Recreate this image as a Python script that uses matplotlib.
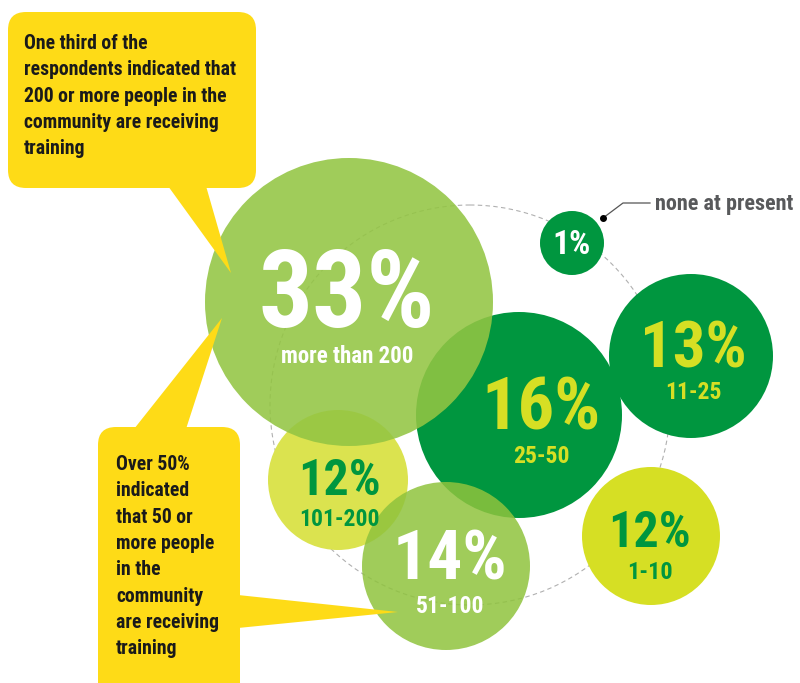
"""社区培训人数分布气泡图。"""

import numpy as np
from matplotlib import pyplot as plt
from matplotlib.patches import Circle, Polygon, FancyBboxPatch
from matplotlib import font_manager

# 选一个窄体字体（参考图为 DIN 类窄体）
_names = {f.name for f in font_manager.fontManager.ttflist}
FONT = 'Roboto'
for cand in ['Roboto Condensed', 'Liberation Sans Narrow',
             'DejaVu Sans Condensed']:
    if cand in _names:
        FONT = cand
        break
plt.rcParams['font.family'] = [FONT, 'DejaVu Sans']

# ---- 数据 ----
shares = [33, 16, 13, 1, 12, 14, 12]
ranges = ['more than 200', '25-50', '11-25', '', '101-200', '51-100', '1-10']
note_top = ('One third of the\nrespondents indicated that\n'
            '200 or more people in the\ncommunity are receiving\ntraining')
note_low = ('Over 50%\nindicated\nthat 50 or\nmore people\nin the\n'
            'community\nare receiving\ntraining')
note_none = 'none at present'

# ---- 布局（像素坐标） ----
centers = [(349, 302), (519, 415), (691, 356), (572, 243),
           (338, 480), (446, 566), (651, 536)]
radii = [144, 103, 82, 32, 70, 84, 69]
fills = ['#93c543', '#00963f', '#00963f', '#00963f',
         '#dbe34f', '#8fc33d', '#d6df24']
alphas = [0.88, 1, 1, 1, 1, 0.85, 1]
txt_colors = ['white', '#d6df24', '#d6df24', 'white',
              '#00963f', 'white', '#00963f']
txt_x = [347, 541, 693, 572, 339, 450, 650]
big_sizes = [77, 52, 46.5, 24, 36, 50, 36]
big_base = [327, 430, 368, 254, 495, 580, 547]
small_sizes = [16.5, 17, 17, 0, 17, 17, 17.5]
small_base = [363, 463, 399, 0, 526, 613, 579]
order = [1, 2, 3, 6, 4, 0, 5]

YELLOW = '#fedb17'

fig = plt.figure(figsize=(8, 6.83), dpi=100)
ax = fig.add_axes([0, 0, 1, 1])
ax.set_xlim(0, 800)
ax.set_ylim(683, 0)
ax.set_aspect('equal')
ax.axis('off')

# 虚线外环
ax.add_patch(Circle((470, 405), 200, fill=False, edgecolor='#b0b0b0',
                    linestyle=(0, (4, 3)), linewidth=0.8, zorder=0))

# 气泡
for i in order:
    ax.add_patch(Circle(centers[i], radii[i], facecolor=fills[i],
                        edgecolor='none', alpha=alphas[i], zorder=2))

for i in range(len(shares)):
    ax.text(txt_x[i], big_base[i], f'{shares[i]}%', ha='center',
            va='baseline', fontsize=big_sizes[i], fontweight='bold',
            color=txt_colors[i], zorder=5)
    if ranges[i]:
        ax.text(txt_x[i], small_base[i], ranges[i], ha='center',
                va='baseline', fontsize=small_sizes[i], fontweight='bold',
                color=txt_colors[i], zorder=5)

# "none at present" 引线
ax.plot([603, 623, 650], [218, 203, 203], color='#555555', lw=0.9, zorder=6)
ax.plot(603, 218, 'o', color='black', markersize=4, zorder=6)
ax.text(655, 210, note_none, ha='left', va='baseline', fontsize=16,
        fontweight='bold', color='#58595b', zorder=6)

# 上方标注框
ax.add_patch(FancyBboxPatch((8, 12), 248, 176,
                            boxstyle='round,pad=0,rounding_size=18',
                            facecolor=YELLOW, edgecolor='none', zorder=7))
ax.add_patch(Polygon([(168, 186), (206, 186), (231, 273)], closed=True,
                     facecolor=YELLOW, edgecolor='none', zorder=7))
ax.text(24, 34, note_top, ha='left', va='top', fontsize=14.2,
        fontweight='bold', color='#1a1a1a', linespacing=1.49, zorder=8)

# 下方标注框
ax.add_patch(FancyBboxPatch((98, 427), 142, 280,
                            boxstyle='round,pad=0,rounding_size=18',
                            facecolor=YELLOW, edgecolor='none', zorder=7))
ax.add_patch(Polygon([(134, 429), (186, 429), (222, 318)], closed=True,
                     facecolor=YELLOW, edgecolor='none', zorder=7))
ax.add_patch(Polygon([(238, 595), (238, 628), (398, 612)], closed=True,
                     facecolor=YELLOW, edgecolor='none', zorder=7))
ax.text(116, 455, note_low, ha='left', va='top', fontsize=14.2,
        fontweight='bold', color='#1a1a1a', linespacing=1.49, zorder=8)

fig.savefig('out.png', dpi=100, facecolor='white')
plt.close(fig)
